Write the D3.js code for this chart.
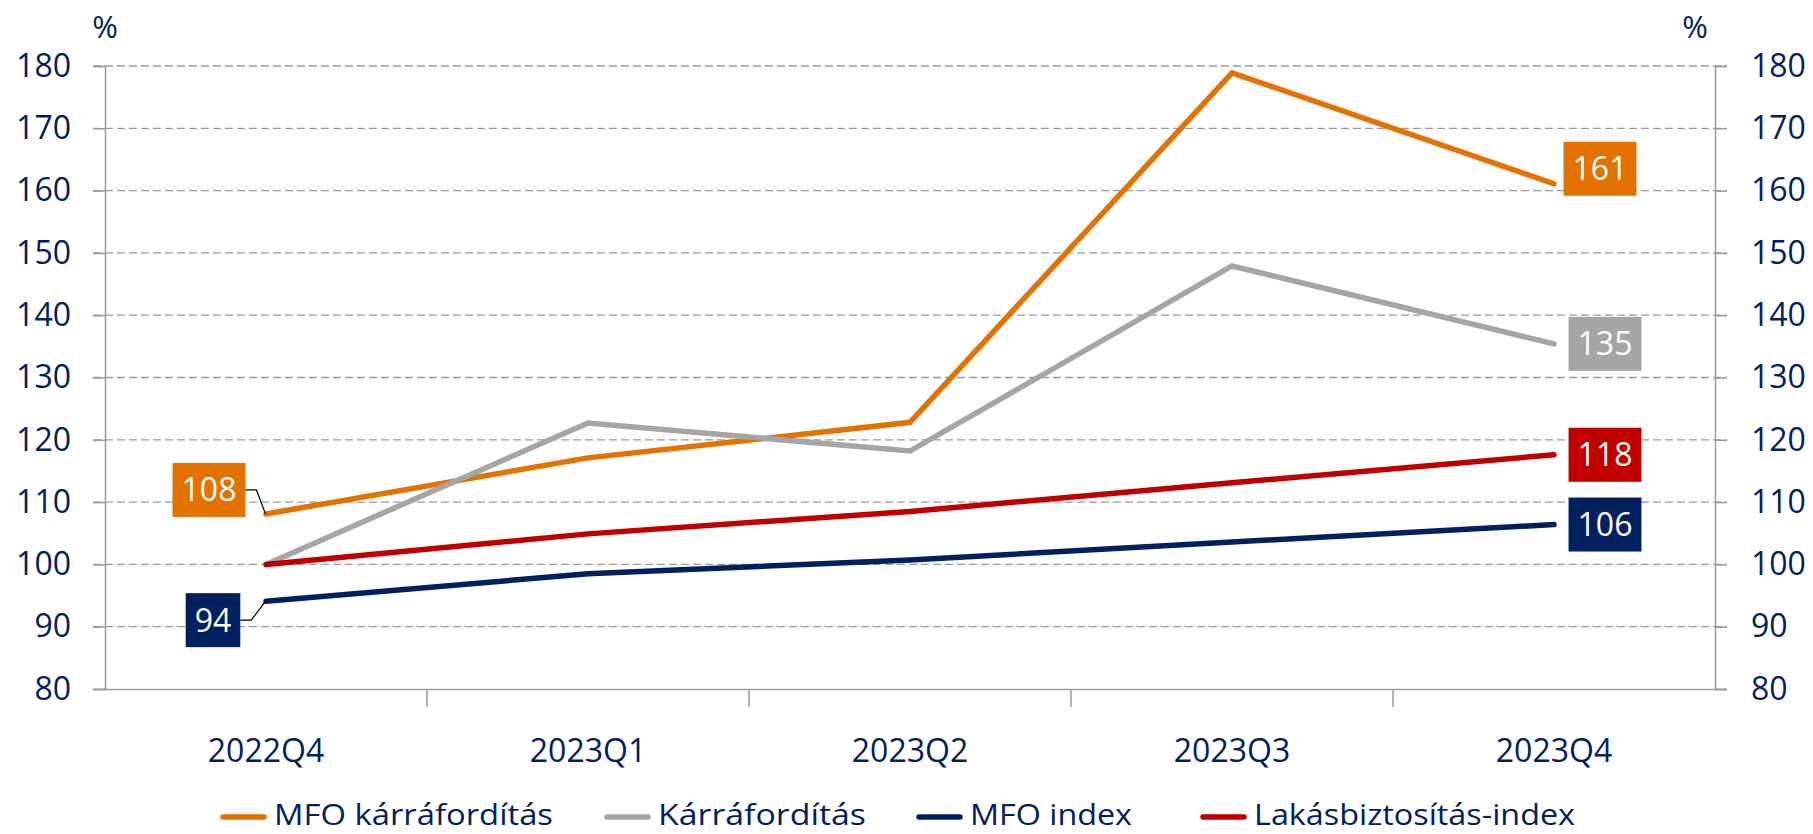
<!DOCTYPE html>
<html>
<head>
<meta charset="utf-8">
<script src="https://cdn.jsdelivr.net/npm/d3@7"></script>
<style>
  body { margin: 0; background: #fff; }
  svg text { font-family: "Open Sans", sans-serif; }
</style>
</head>
<body>
<svg id="chart" width="1813" height="834"></svg>
<script>
// chart data
var quarters = ["2022Q4", "2023Q1", "2023Q2", "2023Q3", "2023Q4"];
var mfoKar   = [108.1, 117.1, 122.8, 178.9, 161.1];
var kar      = [100.0, 122.7, 118.2, 147.9, 135.4];
var mfoIndex = [94.1, 98.5, 100.7, 103.6, 106.4];
var lakas    = [100.0, 104.9, 108.5, 113.1, 117.6];
var yTicks   = [80, 90, 100, 110, 120, 130, 140, 150, 160, 170, 180];

var series = [
  {name: "MFO kárráfordítás", values: mfoKar, color: "#E47200"},
  {name: "Kárráfordítás", values: kar, color: "#A5A5A5"},
  {name: "MFO index", values: mfoIndex, color: "#002060"},
  {name: "Lakásbiztosítás-index", values: lakas, color: "#C00000"}
];

var navy = "#002060";
var svg = d3.select("#chart");
// plot box (window.top is reserved, so prefixed names)
var plotL = 105, plotR = 1715, plotT = 66, plotB = 689;

var x = d3.scaleBand().domain(quarters).range([plotL, plotR]);
var y = d3.scaleLinear().domain([80, 180]).range([plotB, plotT]);
var cx = function(i){ return x(quarters[i]) + x.bandwidth() / 2; };

// dashed grid
svg.append("g").selectAll("line").data(yTicks.filter(function(t){ return t > 80; }))
  .enter().append("line")
  .attr("x1", plotL - 12).attr("x2", plotR + 12)
  .attr("y1", function(d){ return y(d); }).attr("y2", function(d){ return y(d); })
  .attr("stroke", "#9a9a9a").attr("stroke-width", 1.3)
  .attr("stroke-dasharray", "8,4");

// left and right axes
var yl = svg.append("g").attr("transform", "translate(" + plotL + ",0)")
  .call(d3.axisLeft(y).tickValues(yTicks).tickSize(12).tickPadding(22));
var yr = svg.append("g").attr("transform", "translate(" + plotR + ",0)")
  .call(d3.axisRight(y).tickValues(yTicks).tickSize(12).tickPadding(24));
var xa = svg.append("g").attr("transform", "translate(0," + plotB + ")")
  .call(d3.axisBottom(x).tickSize(0).tickPadding(50));

// category boundary ticks on the x axis
svg.append("g").selectAll("line").data(quarters.slice(1))
  .enter().append("line")
  .attr("x1", function(d){ return x(d); }).attr("x2", function(d){ return x(d); })
  .attr("y1", plotB).attr("y2", plotB + 18)
  .attr("stroke", "#9a9a9a").attr("stroke-width", 1.5);

[yl, yr, xa].forEach(function(g){
  g.selectAll("path, line").attr("stroke", "#9a9a9a").attr("stroke-width", 1.5);
  g.selectAll("text").attr("fill", navy).attr("font-size", 32)
    .style("font-family", "'Open Sans', sans-serif");
});
xa.select(".domain").attr("d", "M" + (plotL - 12) + ",0.5H" + (plotR + 12));
xa.selectAll("line").remove();

// % unit labels
svg.append("text").attr("x", 105).attr("y", 38).attr("text-anchor", "middle")
  .attr("fill", navy).attr("font-size", 31).text("%");
svg.append("text").attr("x", 1695).attr("y", 38).attr("text-anchor", "middle")
  .attr("fill", navy).attr("font-size", 31).text("%");

// lines
var line = d3.line().x(function(d, i){ return cx(i); }).y(function(d){ return y(d); });
svg.append("g").selectAll("path").data(series).enter().append("path")
  .attr("d", function(s){ return line(s.values); })
  .attr("fill", "none")
  .attr("stroke", function(s){ return s.color; })
  .attr("stroke-width", 5.5)
  .attr("stroke-linecap", "round")
  .attr("stroke-linejoin", "miter");

// value labels: series index, point index, box offset from point, leader line?
var labels = [
  {s: 0, i: 4, dx: 46, dy: -15, leader: false},
  {s: 1, i: 4, dx: 51, dy: 0, leader: false},
  {s: 3, i: 4, dx: 51, dy: 0, leader: false},
  {s: 2, i: 4, dx: 51, dy: 0, leader: false},
  {s: 0, i: 0, dx: -57, dy: -24, leader: true},
  {s: 2, i: 0, dx: -53, dy: 19, leader: true}
];
var lg = svg.append("g");
labels.forEach(function(l){
  var s = series[l.s];
  var px = cx(l.i), py = y(s.values[l.i]);
  var bx = px + l.dx, by = py + l.dy;
  var txt = String(Math.round(s.values[l.i]));
  var t = lg.append("text").attr("x", bx).attr("y", by + 11.5)
    .attr("text-anchor", "middle").attr("fill", "#fff").attr("font-size", 32).text(txt);
  var w = t.node().getComputedTextLength() + 18, h = 54;
  lg.insert("rect", "text").attr("x", bx - w / 2).attr("y", by - h / 2)
    .attr("width", w).attr("height", h).attr("fill", s.color);
  if (l.leader) {
    var ex = bx + w / 2;
    lg.append("path")
      .attr("d", "M" + ex + "," + by + "H" + (ex + 11) + "L" + (px - 0.5) + "," + py)
      .attr("fill", "none").attr("stroke", "#000").attr("stroke-width", 1.2);
  }
});

// legend
var legendX = [223, 607, 919, 1203];
var legendW = [279, 208, 162, 321];
var leg = svg.append("g");
series.forEach(function(s, k){
  leg.append("line").attr("x1", legendX[k]).attr("x2", legendX[k] + 41)
    .attr("y1", 817).attr("y2", 817)
    .attr("stroke", s.color).attr("stroke-width", 5.5).attr("stroke-linecap", "round");
  leg.append("text").attr("x", legendX[k] + 51).attr("y", 825)
    .attr("fill", navy).attr("font-size", 29)
    .attr("textLength", legendW[k]).attr("lengthAdjust", "spacingAndGlyphs")
    .text(s.name);
});
</script>
</body>
</html>
